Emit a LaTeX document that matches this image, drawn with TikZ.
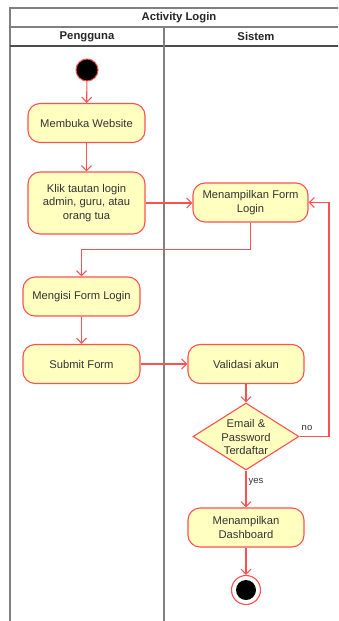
\documentclass[tikz,border=0pt]{standalone}
\usepackage{fontspec}
\setmainfont{Liberation Sans}
\usetikzlibrary{arrows.meta,shapes.geometric}
\definecolor{actfill}{HTML}{FFFFC0}
\definecolor{actline}{HTML}{FF5050}
\definecolor{txt}{HTML}{333333}
\definecolor{framec}{HTML}{808080}

\begin{document}
\begin{tikzpicture}[x=1pt,y=-1pt,
  act/.style={draw=actline, fill=actfill, rounded corners=12pt, line width=1.1pt,
    minimum width=117pt, minimum height=39pt, align=center, text=txt,
    font=\fontsize{11.2}{13.8}\selectfont, inner sep=1pt},
  flow/.style={draw=actline, line width=1.1pt, -{Straight Barb[length=5pt,width=10pt]}},
  lane/.style={draw=framec, line width=1.3pt},
  head/.style={font=\bfseries\fontsize{11.3}{13}\selectfont, text=black!85},
  lbl/.style={font=\fontsize{9.5}{11}\selectfont, text=txt}]
\useasboundingbox (0,0) rectangle (338,621);
\clip (0,0) rectangle (338,621);
\fill[white] (0,0) rectangle (338,621);

% swimlane frame
\draw[lane] (10,8) rectangle (348,640);
\draw[lane] (10,27) -- (348,27);
\draw[draw=black!70, line width=1.3pt] (10,46) -- (348,46);
\draw[lane] (164,27) -- (164,640);
\node[head] (title) at (179,17.5) {Activity Login};
\node[head] (lane1) at (87,36.5) {Pengguna};
\node[head] (lane2) at (256,36.5) {Sistem};

% activities
\node[circle, draw=actline, fill=black, line width=1pt, minimum size=22pt, inner sep=0pt] (start) at (87,70) {};
\node[act] (buka) at (86.5,123) {Membuka Website};
\node[act, minimum height=62pt] (klik) at (86.5,203) {Klik tautan login\\admin, guru, atau\\orang tua};
\node[act, minimum width=115pt] (form) at (250.5,202.5) {Menampilkan Form\\Login};
\node[act] (isi) at (81.5,296.5) {Mengisi Form Login};
\node[act] (submit) at (81.5,364) {Submit Form};
\node[act, minimum width=116pt] (valid) at (246,364) {Validasi akun};
\node[diamond, draw=actline, fill=actfill, line width=1.1pt, minimum width=106pt,
  minimum height=67pt, inner sep=0pt] (cek) at (246,436.5) {};
\node[align=center, text=txt, font=\fontsize{11.2}{13.8}\selectfont, inner sep=0pt] (cektext) at (246,437) {Email \&\\Password\\Terdaftar};
\node[act, minimum width=116pt] (dash) at (246,527.5) {Menampilkan\\Dashboard};
\node[circle, draw=actline, fill=white, line width=1.1pt, minimum size=29pt, inner sep=0pt] (end) at (246,590) {};
\node[circle, fill=black, minimum size=20pt, inner sep=0pt] (endcore) at (end) {};

% control flow
\coordinate (loop) at (329,436.5);
\draw[flow] (start) -- (buka);
\draw[flow] (buka) -- (klik);
\draw[flow] (klik.east) -- (klik.east -| form.west);
\draw[flow] (form.south) -- ++(0,27) -| (isi.north);
\draw[flow] (isi) -- (submit);
\draw[flow] (submit) -- (valid);
\draw[flow] (valid) -- (cek);
\draw[flow] (cek.east) -- (loop) |- (form.east);
\draw[flow] (cek) -- (dash);
\draw[flow] (dash) -- (end);
\node[lbl] (no) at (307,428) {no};
\node[lbl] (yes) at (256,482) {yes};
\end{tikzpicture}
\end{document}
